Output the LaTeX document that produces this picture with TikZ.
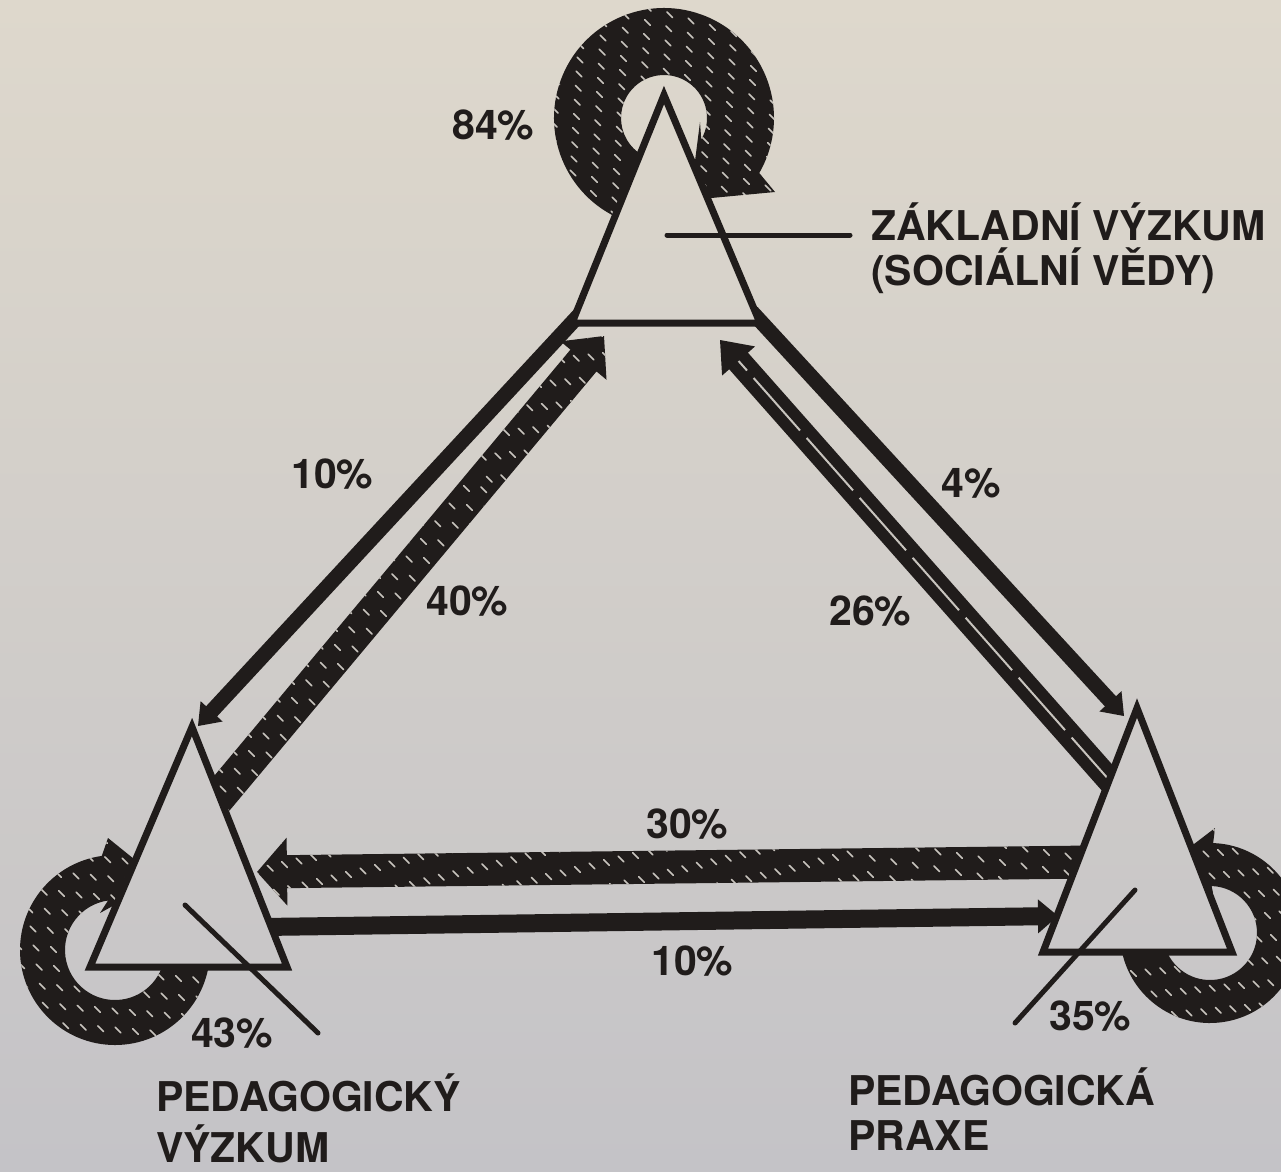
\documentclass[tikz,border=0pt]{standalone}
\usepackage{fontspec}
\setmainfont{TeX Gyre Heros}
\usetikzlibrary{calc}
\definecolor{ink}{RGB}{32,28,27}
\definecolor{papertop}{RGB}{222,216,204}
\definecolor{paperbot}{RGB}{196,195,199}
\definecolor{hatchc}{RGB}{200,196,190}

\newcommand{\mkband}[6]{%
  \coordinate (#1-h) at ($(#3)!#6pt!(#2)$);
  \coordinate (#1-a1) at ($(#2)!#4pt!90:(#3)$);
  \coordinate (#1-a2) at ($(#2)!#4pt!-90:(#3)$);
  \coordinate (#1-h1) at ($(#1-h)!#4pt!90:(#3)$);
  \coordinate (#1-h2) at ($(#1-h)!#4pt!-90:(#3)$);
  \coordinate (#1-b1) at ($(#1-h)!#5pt!90:(#3)$);
  \coordinate (#1-b2) at ($(#1-h)!#5pt!-90:(#3)$);
}
\newcommand{\bandshape}[2]{(#1-a1) -- (#1-h1) -- (#1-b1) -- (#2) -- (#1-b2) -- (#1-h2) -- (#1-a2) -- cycle}
\newcommand{\hatchlines}[3]{%
  \foreach \k [evaluate=\k as \ph using {mod(abs(\k)*11,29)}] in {#1,#2,...,#3}
    {\draw[hatchline, dash phase=\ph pt] ({\k-20},-20) -- ({\k+1210},1210);}
}

\begin{document}
\begin{tikzpicture}[x=1pt,y=-1pt,
  lbl/.style={font=\fontsize{41}{41}\selectfont\bfseries, text=ink, inner sep=0pt, anchor=base west},
  edge/.style={draw=ink, line width=7pt, line join=miter},
  leader/.style={draw=ink, line width=5pt, line cap=round},
  hatchline/.style={draw=hatchc, line width=1.6pt, dash pattern=on 8pt off 21pt, line cap=round}]

\useasboundingbox (0,0) rectangle (1281,1171);
\clip (0,0) rectangle (1281,1171);
\shade[top color=papertop, bottom color=paperbot] (0,0) rectangle (1281,1171);

% triangles
\coordinate (Ta) at (664,95);   \coordinate (Tl) at (572,323);  \coordinate (Tr) at (760,323);
\coordinate (La) at (192,727);  \coordinate (Ll) at (90,967);   \coordinate (Lr) at (287,967);
\coordinate (Ra) at (1137,708); \coordinate (Rl) at (1043,952); \coordinate (Rr) at (1232,952);

% ring centres
\coordinate (CT) at (664,118);
\coordinate (CL) at (115,950);
\coordinate (CR) at (1210,933);

% band end points
\coordinate (A10l) at (580,314);  \coordinate (B10l) at (198,726);
\coordinate (A40) at (212,805);   \coordinate (B40) at (604,336);
\coordinate (A4) at (752,312);    \coordinate (B4) at (1124,716);
\coordinate (A26) at (1118,790);  \coordinate (B26) at (720,340);
\coordinate (A30) at (1090,862);  \coordinate (B30) at (257,872);
\coordinate (A10b) at (262,927);  \coordinate (B10b) at (1058,916);

\mkband{b10l}{A10l}{B10l}{7.5}{15}{20}
\mkband{b40}{A40}{B40}{17}{30}{32}
\mkband{b4}{A4}{B4}{7.5}{15}{20}
\mkband{b26}{A26}{B26}{12.5}{22}{28}
\mkband{b30}{A30}{B30}{16.5}{34}{30}
\mkband{b10b}{A10b}{B10b}{9}{17}{20}

\def\ringTop{($(CT)+(110:110)$) arc[start angle=110,end angle=390,radius=110] -- (775,192) -- (690,200) -- (700,122) -- ($(CT)+(390:43)$) arc[start angle=390,end angle=110,radius=43] -- cycle}
\def\ringLeft{($(CL)+(0:95)$) arc[start angle=0,end angle=262,radius=95] -- (108,838) -- (160,880) -- (100,913) -- ($(CL)+(262:50)$) arc[start angle=262,end angle=0,radius=50] -- cycle}
\def\ringRight{($(CR)+(175:90)$) arc[start angle=175,end angle=-88,radius=90] -- (1215,828) -- (1160,870) -- (1213,893) -- ($(CR)+(-88:47)$) arc[start angle=-88,end angle=175,radius=47] -- cycle}

\begin{scope}[even odd rule]
  \clip (-10,-10) rectangle (1300,1190)
     (Ta) -- (Tl) -- (Tr) -- cycle
     (La) -- (Ll) -- (Lr) -- cycle
     (Ra) -- (Rl) -- (Rr) -- cycle;
  % rings
  \fill[ink] \ringTop;
  \begin{scope}\clip \ringTop; \hatchlines{340}{355}{790}\end{scope}
  \fill[ink] \ringLeft;
  \begin{scope}\clip \ringLeft; \hatchlines{-1040}{-1024}{-610}\end{scope}
  \fill[ink] \ringRight;
  \begin{scope}\clip \ringRight; \hatchlines{80}{96}{490}\end{scope}
  % bands
  \fill[ink] \bandshape{b10l}{B10l};
  \fill[ink] \bandshape{b40}{B40};
  \begin{scope}\clip \bandshape{b40}{B40}; \hatchlines{-630}{-614}{300}\end{scope}
  \fill[ink] \bandshape{b4}{B4};
  \fill[ink] \bandshape{b26}{B26};
  \draw[hatchc, line width=2pt, dash pattern=on 70pt off 10pt] (A26) -- (b26-h);
  \fill[ink] \bandshape{b30}{B30};
  \begin{scope}\clip \bandshape{b30}{B30}; \hatchlines{-670}{-652}{270}\end{scope}
  \fill[ink] \bandshape{b10b}{B10b};
\end{scope}

% triangle outlines
\draw[edge] (Ta) -- (Tl) -- (Tr) -- cycle;
\draw[edge] (La) -- (Ll) -- (Lr) -- cycle;
\draw[edge] (Ra) -- (Rl) -- (Rr) -- cycle;

% leader lines
\coordinate (LT1) at (667,235); \coordinate (LT2) at (850,235);
\coordinate (LL1) at (185,905); \coordinate (LL2) at (318,1033);
\coordinate (LR1) at (1135,890); \coordinate (LR2) at (1015,1023);
\draw[leader] (LT1) -- (LT2);
\draw[leader] (LL1) -- (LL2);
\draw[leader] (LR1) -- (LR2);

% labels
\node[lbl] (p84) at (452,139) {84\%};
\node[lbl] (p10a) at (291,488) {10\%};
\node[lbl] (p40) at (426,615) {40\%};
\node[lbl] (p4) at (941,497) {4\%};
\node[lbl] (p26) at (829,625) {26\%};
\node[lbl] (p30) at (646,838) {30\%};
\node[lbl] (p10b) at (651,975) {10\%};
\node[lbl] (p43) at (191,1047) {43\%};
\node[lbl] (p35) at (1049,1030) {35\%};
\node[lbl] (zv1) at (871,240) {ZÁKLADNÍ VÝZKUM};
\node[lbl] (zv2) at (871,285) {(SOCIÁLNÍ VĚDY)};
\node[lbl] (pv1) at (156,1111) {PEDAGOGICKÝ};
\node[lbl] (pv2) at (156,1162) {VÝZKUM};
\node[lbl] (pp1) at (848,1105) {PEDAGOGICKÁ};
\node[lbl] (pp2) at (848,1150) {PRAXE};
\end{tikzpicture}
\end{document}
